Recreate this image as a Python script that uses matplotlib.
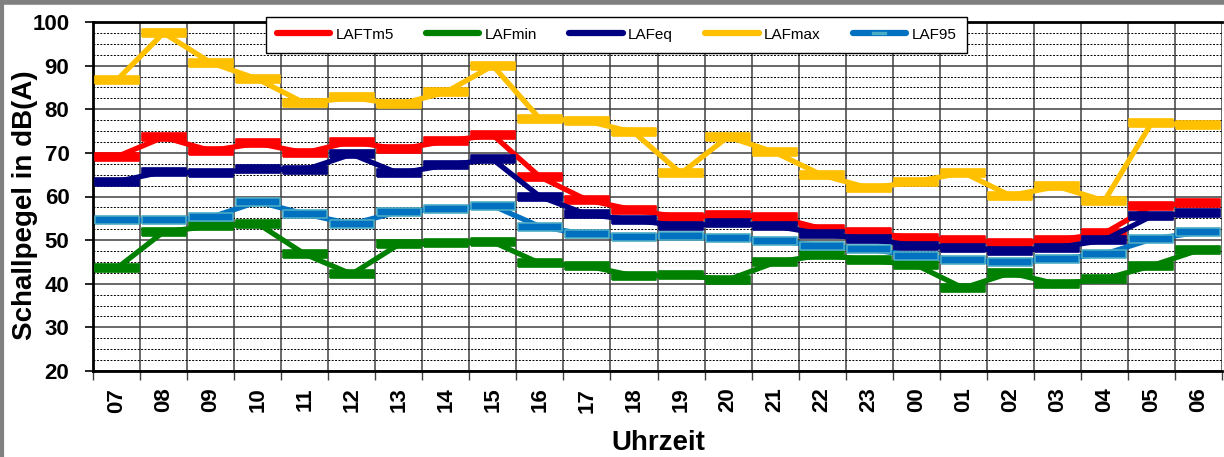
import numpy as np
import matplotlib.pyplot as plt
from matplotlib.lines import Line2D

hours = ['07', '08', '09', '10', '11', '12', '13', '14', '15', '16', '17', '18',
         '19', '20', '21', '22', '23', '00', '01', '02', '03', '04', '05', '06']

laftm5 = [69.1, 73.6, 70.5, 72.2, 70.0, 72.6, 70.8, 72.7, 74.1, 64.5, 59.2, 56.9,
          55.2, 55.8, 55.4, 52.6, 51.8, 50.4, 50.0, 49.3, 50.0, 51.6, 57.8, 58.6]
lafmin = [43.5, 51.9, 53.2, 53.8, 46.8, 42.2, 49.0, 49.4, 49.6, 44.7, 44.1, 41.8,
          42.0, 40.9, 44.9, 46.6, 45.4, 44.3, 39.0, 42.5, 39.9, 41.1, 44.1, 47.7]
lafeq = [63.4, 65.7, 65.3, 66.3, 66.1, 69.7, 65.3, 67.2, 68.5, 60.0, 55.9, 54.6,
         53.2, 53.9, 53.2, 51.4, 50.2, 48.7, 48.3, 47.6, 48.3, 50.0, 55.5, 56.3]
lafmax = [86.6, 97.5, 90.7, 86.9, 81.4, 82.7, 81.1, 83.9, 90.0, 77.8, 77.3, 74.7,
          65.3, 73.7, 70.1, 64.9, 61.9, 63.4, 65.5, 60.2, 62.3, 59.0, 76.8, 76.4]
laf95 = [54.5, 54.5, 55.2, 58.8, 56.0, 53.7, 56.5, 57.1, 57.9, 53.1, 51.3, 50.8,
         51.0, 50.6, 49.9, 48.7, 47.9, 46.4, 45.4, 44.9, 45.7, 46.8, 50.2, 51.8]

series = [
    ('LAFTm5', laftm5, '#FF0000', '#FF0000'),
    ('LAFmin', lafmin, '#008000', '#008000'),
    ('LAFeq', lafeq, '#000080', '#000080'),
    ('LAFmax', lafmax, '#FFC000', '#FFC000'),
    ('LAF95', laf95, '#0070C0', '#4BACC6'),
]

FONT = 'Liberation Sans'

# flat bar marker
bar = [(-1, -0.2), (1, -0.2), (1, 0.2), (-1, 0.2), (-1, -0.2)]

fig = plt.figure(figsize=(12.24, 4.57), dpi=100)
ax = fig.add_axes([93 / 1224, 1 - 371 / 457, (1222 - 93) / 1224, (371 - 22) / 457])

x = np.arange(len(hours))
for name, vals, col, edge in series:
    ax.plot(x, vals, color=col, lw=3.8, marker=bar, markersize=31,
            markerfacecolor=col, markeredgecolor=edge, markeredgewidth=1.2,
            solid_joinstyle='round', zorder=3, label=name)

ax.set_xlim(-0.5, len(hours) - 0.5)
ax.set_ylim(20, 100)
ax.set_yticks(np.arange(20, 101, 10))
ax.set_yticks(np.arange(20, 100, 2.5), minor=True)
ax.set_xticks(x)
ax.set_xticklabels(hours, rotation=90)
ax.set_xticks(np.arange(-0.5, len(hours), 1), minor=True)

ax.grid(axis='y', which='major', color='#404040', lw=1.1, zorder=1)
ax.grid(axis='y', which='minor', color='black', lw=0.7, ls=(0, (2, 1.5)), zorder=1)
ax.grid(axis='x', which='minor', color='#404040', lw=1.1, zorder=1)

ax.tick_params(axis='x', which='major', length=0, pad=12)
ax.tick_params(axis='x', which='minor', length=6.5, width=1, color='#404040')
ax.tick_params(axis='y', which='major', length=6, width=1.2, pad=11)
ax.tick_params(axis='y', which='minor', length=0)
for lab in ax.get_xticklabels() + ax.get_yticklabels():
    lab.set_fontweight('bold')
    lab.set_fontsize(16)
    lab.set_family(FONT)

for s in ['left', 'bottom', 'top']:
    ax.spines[s].set_linewidth(2)
ax.spines['right'].set_visible(False)

ax.set_ylabel('Schallpegel in dB(A)', fontsize=20, fontweight='bold', family=FONT)
ax.yaxis.set_label_coords(-0.060, 0.476)
ax.set_xlabel('Uhrzeit', fontsize=20, fontweight='bold', family=FONT)
ax.xaxis.set_label_coords(0.501, -0.206)
ax.xaxis.label.set_va('center')
ax.yaxis.label.set_va('center')

handles = []
for name, vals, col, edge in series:
    if name == 'LAF95':
        handles.append(Line2D([], [], color=col, lw=4.5, solid_capstyle='round',
                              marker=bar, markersize=10, markerfacecolor='#4BACC6',
                              markeredgecolor='#4BACC6'))
    else:
        handles.append(Line2D([], [], color=col, lw=4.5, solid_capstyle='round'))
leg = ax.legend(handles, [s[0] for s in series], ncol=5, loc='upper center',
                bbox_to_anchor=(0.4637, 1.014), frameon=True, fancybox=False,
                edgecolor='black', framealpha=1, handlelength=3.5, numpoints=1,
                columnspacing=2.1, handletextpad=0.35, borderpad=0.7,
                borderaxespad=0, prop={'family': FONT, 'size': 11})
leg.get_frame().set_linewidth(1)
leg.set_zorder(5)

# outer gray frame
fig.add_artist(Line2D([0, 1], [0.995, 0.995], color='#808080', lw=4,
                      transform=fig.transFigure))
fig.add_artist(Line2D([0.002, 0.002], [0, 1], color='#808080', lw=3,
                      transform=fig.transFigure))

fig.savefig('out.png', dpi=100)
